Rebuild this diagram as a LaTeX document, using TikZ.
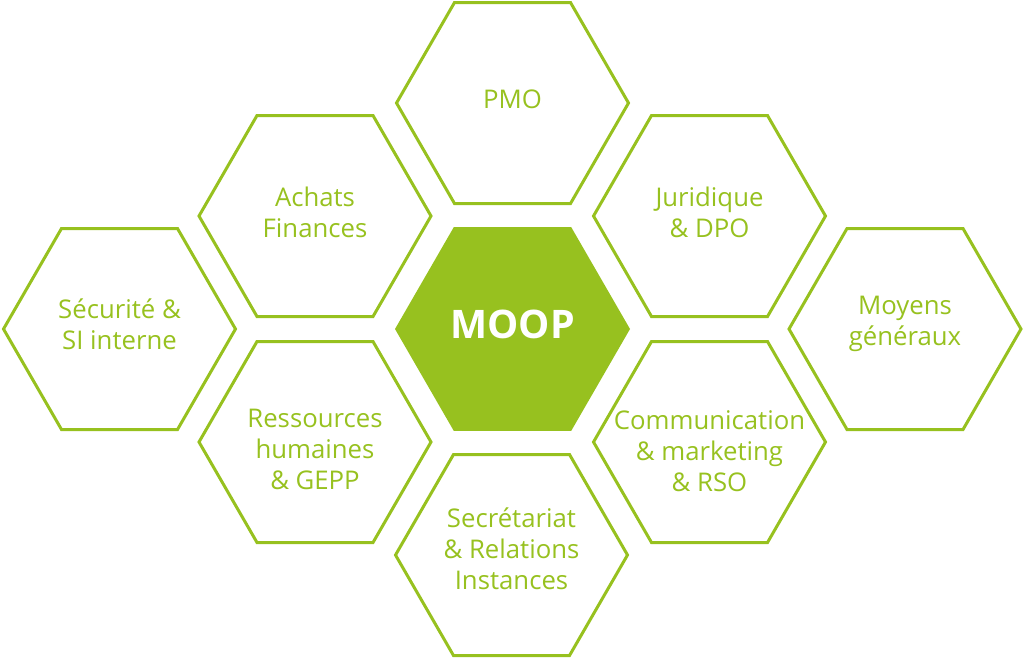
\documentclass[tikz,border=0pt]{standalone}
\usepackage{fontspec}
\setmainfont{Open Sans}
\definecolor{moopgreen}{RGB}{151,193,31}
\tikzset{every picture/.style={line width=0.75pt}}
\tikzset{
  hexline/.style={draw=moopgreen, line width=2.25pt, line join=miter},
  hexlabel/.style={text=moopgreen, font=\fontsize{19.3}{23.2}\selectfont, align=center},
  moopbox/.style={fill=moopgreen},
  mooplabel/.style={text=white, font=\fontsize{29.5}{33}\selectfont\bfseries}
}
% outlined hexagon, centre given
\newcommand{\hexa}[2]{\draw[hexline] (#1,#2) ++(-116,0) -- ++(58,-100.5) -- ++(116,0) -- ++(58,100.5) -- ++(-58,100.5) -- ++(-116,0) -- cycle;}

\begin{document}
\begin{tikzpicture}[x=0.75pt,y=0.75pt,yscale=-1,xscale=1]
	\useasboundingbox (0,0) rectangle (1024,658);

	%Shape: Hexagon, filled centre
	\fill[moopbox] (512.5,329) ++(-117.5,0) -- ++(58.75,-101.8) -- ++(117.5,0) -- ++(58.75,101.8) -- ++(-58.75,101.8) -- ++(-117.5,0) -- cycle;
	%Shapes: Hexagons
	\hexa{512.5}{103}
	\hexa{315}{216}
	\hexa{709.5}{216}
	\hexa{119.5}{329}
	\hexa{905}{329}
	\hexa{315}{442}
	\hexa{709.5}{442}
	\hexa{511.5}{555}

	% Text Node
	\node[mooplabel] (moop) at (512.5,324) {MOOP};
	% Text Node
	\node[hexlabel] (pmo) at (512.5,99) {PMO};
	% Text Node
	\node[hexlabel] (achats) at (315,212) {Achats\\Finances};
	% Text Node
	\node[hexlabel] (juridique) at (709.5,212) {Juridique\\\& DPO};
	% Text Node
	\node[hexlabel] (securite) at (119.5,324) {Sécurité \&\\SI interne};
	% Text Node
	\node[hexlabel] (moyens) at (905,324) {Moyens\\généraux};
	% Text Node
	\node[hexlabel] (rh) at (315,449) {Ressources\\humaines\\\& GEPP};
	% Text Node
	\node[hexlabel] (communication) at (709.5,451) {Communication\\\& marketing\\\& RSO};
	% Text Node
	\node[hexlabel] (secretariat) at (511.5,549) {Secrétariat\\\& Relations\\Instances};

\end{tikzpicture}
\end{document}
